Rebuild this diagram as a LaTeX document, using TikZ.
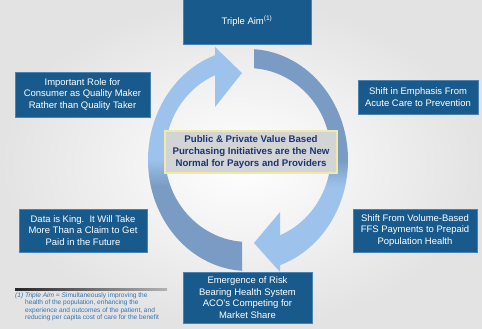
\documentclass[tikz,border=0pt]{standalone}
\usepackage{fontspec}
\setmainfont{Liberation Sans}
\usepackage{xcolor}
\usepackage{tikz}

\definecolor{boxblue}{RGB}{25,90,140}
\definecolor{boxedge}{RGB}{75,130,178}
\definecolor{arrlight}{RGB}{157,195,236}
\definecolor{arrdark}{RGB}{122,155,196}
\definecolor{hubtext}{RGB}{28,52,112}
\definecolor{hubfill}{RGB}{210,212,214}
\definecolor{hubedge}{RGB}{240,234,168}
\definecolor{notetext}{RGB}{55,115,170}

% two-tone fills for the circular arrows
\pgfdeclareverticalshading{lowdark}{100bp}{color(0bp)=(arrdark); color(44bp)=(arrdark); color(50bp)=(arrlight); color(100bp)=(arrlight)}
\pgfdeclareverticalshading{topdark}{100bp}{color(0bp)=(arrlight); color(44bp)=(arrlight); color(50bp)=(arrdark); color(100bp)=(arrdark)}

\begin{document}
\begin{tikzpicture}[x=1bp, y=-1bp,
    blubox/.style={fill=boxblue, draw=boxedge, line width=0.8bp, text=white,
        align=center, inner sep=0pt, font=\fontsize{9.5}{11.5}\selectfont},
    hubbox/.style={fill=hubfill, draw=hubedge, line width=1.6bp, text=hubtext,
        align=center, inner sep=0pt, font=\fontsize{9.7}{11.7}\selectfont\bfseries},
    note/.style={text=notetext, align=left, inner sep=0pt,
        font=\fontsize{6.6}{7.4}\selectfont}]
    % Background
    \useasboundingbox (0,0) rectangle (482,328);
    \shade[inner color=white, outer color=black!11] (0,0) rectangle (482,328);
    % Right arrow (tail at the top)
    \shade[shading=topdark]
        ([shift={(248,160)}]-86.56:100 and 111)
        arc[start angle=-86.56, end angle=71.34, x radius=100, y radius=111]
        -- (280,272) -- (254,243) -- (280,212)
        -- ([shift={(248,155)}]67.32:83 and 87)
        arc[start angle=67.32, end angle=-85.85, x radius=83, y radius=87]
        -- cycle;
    % Left arrow (tail at the bottom)
    \shade[shading=lowdark]
        ([shift={(248,160)}]93.44:100 and 111)
        arc[start angle=93.44, end angle=250.73, x radius=100, y radius=111]
        -- (215,47) -- (242,73) -- (215,107)
        -- ([shift={(248,155)}]246.57:83 and 87)
        arc[start angle=246.57, end angle=94.15, x radius=83, y radius=87]
        -- cycle;
    % Boxes round the cycle
    \node[blubox, minimum width=128bp, minimum height=46bp] (aim) at (247,21)
        {Triple Aim\textsuperscript{(1)}};
    \node[blubox, minimum width=120bp, minimum height=34bp] (prevention) at (418,97)
        {Shift in Emphasis From\\Acute Care to Prevention};
    \node[blubox, minimum width=124bp, minimum height=43bp] (payments) at (415,230.5)
        {Shift From Volume-Based\\FFS Payments to Prepaid\\Population Health};
    \node[blubox, minimum width=129bp, minimum height=51bp] (risk) at (247.5,297.5)
        {Emergence of Risk\\Bearing Health System\\ACO's Competing for\\Market Share};
    \node[blubox, minimum width=128bp, minimum height=43bp] (data) at (83,230.5)
        {Data is King.\ \ It Will Take\\More Than a Claim to Get\\Paid in the Future};
    \node[blubox, minimum width=135bp, minimum height=45bp] (consumer) at (82.5,94.5)
        {Important Role for\\Consumer as Quality Maker\\Rather than Quality Taker};
    % Middle box
    \node[hubbox, minimum width=172bp, minimum height=42bp] (hub) at (251,152)
        {Public \& Private Value Based\\Purchasing Initiatives are the New\\Normal for Payors and Providers};
    % Footnote
    \shade[left color=black!85, right color=black!30] (15,288.5) rectangle (167,290);
    \node[note, anchor=north west] (note) at (15,292.3)
        {\textit{(1) Triple Aim = S}imultaneously improving the\\
         \hspace*{10bp}health of the population, enhancing the\\
         \hspace*{10bp}experience and outcomes of the patient, and\\
         \hspace*{10bp}reducing per capita cost of care for the benefit};
\end{tikzpicture}
\end{document}
